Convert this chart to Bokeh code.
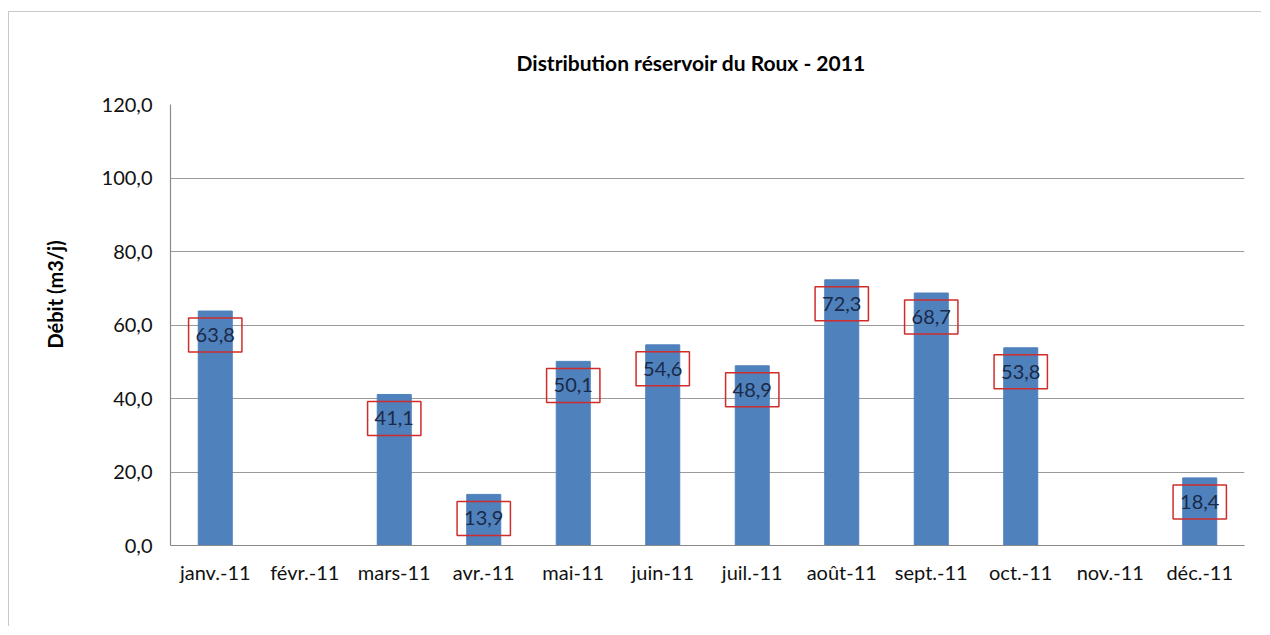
from bokeh.plotting import figure
from bokeh.models import ColumnDataSource, FixedTicker, Title
from bokeh.core.properties import value
from bokeh.embed import file_html
from bokeh.resources import INLINE

months = ["janv.-11", "févr.-11", "mars-11", "avr.-11", "mai-11", "juin-11",
          "juil.-11", "août-11", "sept.-11", "oct.-11", "nov.-11", "déc.-11"]
debit = [63.8, None, 41.1, 13.9, 50.1, 54.6, 48.9, 72.3, 68.7, 53.8, None, 18.4]
y_ticks = [0, 20, 40, 60, 80, 100, 120]
y_tick_labels = ["0,0", "20,0", "40,0", "60,0", "80,0", "100,0", "120,0"]
title_text = "Distribution réservoir  du Roux - 2011"
y_label = "Débit (m3/j)"

xs = [m for m, v in zip(months, debit) if v is not None]
vs = [v for v in debit if v is not None]
src = ColumnDataSource(dict(x=xs, v=vs, lbl=[f"{v:.1f}".replace(".", ",") for v in vs]))

FONT = "Lato"

p = figure(x_range=months, y_range=(0, 120), width=1253, height=615,
           output_backend="svg", toolbar_location=None,
           min_border_left=161, min_border_right=18, min_border_top=92,
           min_border_bottom=82, title=title_text)
p.styles = {"border-left": "1px solid #c8c8c8", "border-top": "1px solid #c8c8c8",
            "margin-top": "11px", "margin-left": "8px"}

p.title.align = "left"
p.title.offset = 346
p.title.text_font = FONT
p.title.text_font_size = "21px"
p.title.text_font_style = "bold"
p.title.text_color = "#000000"
p.title.standoff = 60

p.vbar(x="x", top="v", width=0.38, source=src, color="#4F81BD")
p.text(x="x", y="v", text="lbl", source=src, y_offset=24,
       text_align="center", text_baseline="middle",
       text_font=value(FONT), text_font_size="20px", text_color="#1b2a48",
       border_line_color="#d02c2c", border_line_width=1.5,
       padding=dict(left=7, right=7, top=10, bottom=10))

p.outline_line_color = None
p.background_fill_color = "white"
p.border_fill_color = "white"

p.xgrid.grid_line_color = None
p.ygrid.grid_line_color = "#9a9a9a"
p.ygrid.grid_line_width = 1.2
p.yaxis.ticker = FixedTicker(ticks=y_ticks)
p.yaxis.major_label_overrides = {t: l for t, l in zip(y_ticks, y_tick_labels)}

for ax in (p.xaxis, p.yaxis):
    ax.axis_line_color = "#8a8a8a"
    ax.axis_line_width = 1.2
    ax.major_tick_line_color = None
    ax.minor_tick_line_color = None
    ax.major_tick_out = 0
    ax.major_tick_in = 0
    ax.major_label_text_font = FONT
    ax.major_label_text_font_size = "20px"
    ax.major_label_text_color = "#111111"

p.yaxis.major_label_standoff = 18
p.xaxis.major_label_standoff = 14

# y-axis title as a side title, placed slightly above centre as in the original
ytitle = Title(text=y_label, align="left", offset=197, standoff=63,
               text_font=FONT, text_font_size="20px", text_font_style="bold",
               text_color="#000000")
p.add_layout(ytitle, "left")

open("out.html", "w").write(file_html(p, INLINE))
